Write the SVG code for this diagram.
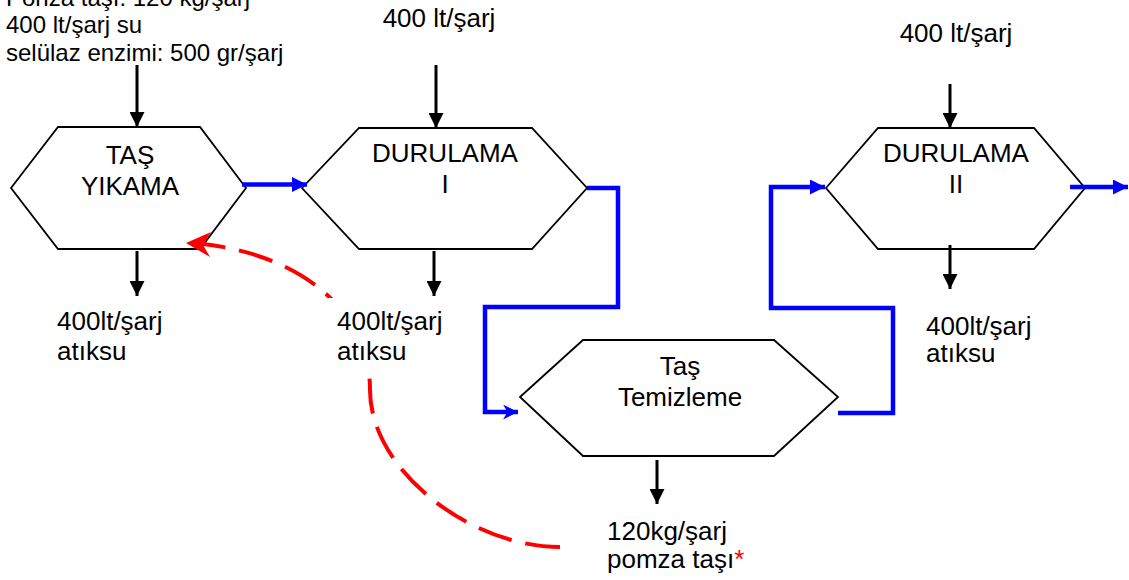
<svg xmlns="http://www.w3.org/2000/svg" width="1129" height="580" viewBox="0 0 1129 580">
<style>
text{font-family:"Liberation Sans",Arial,sans-serif;font-size:26px;fill:#000}
.hex{fill:#fff;stroke:#000;stroke-width:1.8;stroke-linejoin:miter}
.blk{fill:none;stroke:#000;stroke-width:3}
.blu{fill:none;stroke:#0000ff;stroke-width:4.5;stroke-linejoin:miter}
.red{fill:none;stroke:#ff0000;stroke-width:4;stroke-dasharray:35 14}
.mid{text-anchor:middle}
.sm{font-size:24px}
</style>
<defs>
<marker id="ab" viewBox="0 0 10 10" refX="10" refY="5" markerWidth="15" markerHeight="15" markerUnits="userSpaceOnUse" orient="auto"><path d="M0,0 L10,5 L0,10 Z" fill="#000"/></marker>
<marker id="au" viewBox="0 0 10 10" refX="10" refY="5" markerWidth="15" markerHeight="15" markerUnits="userSpaceOnUse" orient="auto"><path d="M0,0 L10,5 L0,10 Z" fill="#0000ff"/></marker>
<marker id="as" viewBox="0 0 10 10" refX="10" refY="5" markerWidth="15" markerHeight="15" markerUnits="userSpaceOnUse" orient="auto"><path d="M0,0 L10,5 L0,10 L3,5 Z" fill="#0000ff"/></marker>
</defs>

<g id="node-tas-yikama">
<polygon class="hex" points="11,188 58,127 200,127 246,188 200,249 58,249"/>
<text class="mid" x="130" y="164">TAŞ</text>
<text class="mid" x="130" y="195">YIKAMA</text>
</g>
<g id="node-durulama-1">
<polygon class="hex" points="302,188 359,128 532,128 587,188 532,249 359,249"/>
<text class="mid" x="445" y="162">DURULAMA</text>
<text class="mid" x="445" y="193">I</text>
</g>
<g id="node-tas-temizleme">
<polygon class="hex" points="520,397 583,340 774,340 838,397 774,456 583,456"/>
<text class="mid" x="680" y="375">Taş</text>
<text class="mid" x="680" y="406">Temizleme</text>
</g>
<g id="node-durulama-2">
<polygon class="hex" points="826,188 878,128 1034,128 1085,188 1034,249 878,249"/>
<text class="mid" x="956" y="162">DURULAMA</text>
<text class="mid" x="956" y="193">II</text>
</g>

<g id="connectors">
<line class="blk" x1="137" y1="65" x2="137" y2="127" marker-end="url(#ab)"/>
<line class="blk" x1="436" y1="65" x2="436" y2="128" marker-end="url(#ab)"/>
<line class="blk" x1="950" y1="84" x2="950" y2="128" marker-end="url(#ab)"/>
<line class="blk" x1="137" y1="251" x2="137" y2="296" marker-end="url(#ab)"/>
<line class="blk" x1="434" y1="251" x2="434" y2="296" marker-end="url(#ab)"/>
<line class="blk" x1="950" y1="245" x2="950" y2="289" marker-end="url(#ab)"/>
<line class="blk" x1="657" y1="460" x2="657" y2="504" marker-end="url(#ab)"/>
<line class="blu" x1="242" y1="184.5" x2="307" y2="184.5" marker-end="url(#au)"/>
<polyline class="blu" points="587,188 618,188 618,307 485,307 485,412 518,412" marker-end="url(#as)"/>
<polyline class="blu" points="838,413 893,413 893,308 771,308 771,187 825,187" marker-end="url(#au)"/>
<line class="blu" x1="1070" y1="187" x2="1128" y2="187" marker-end="url(#au)"/>
<path class="red" d="M560,547 C470,547 370,470 370,390 C370,310 300,255 203,244"/>
<polygon points="186,243 211,232 203,245 210,257" fill="#ff0000"/>
</g>

<g id="label-inputs-1">
<text class="sm" x="6" y="6">Ponza taşı: 120 kg/şarj</text>
<text class="sm" x="6" y="33">400 lt/şarj su</text>
<text class="sm" x="6" y="61">selülaz enzimi: 500 gr/şarj</text>
</g>
<g id="label-inputs-2"><text class="mid" x="439" y="27">400 lt/şarj</text></g>
<g id="label-inputs-3"><text class="mid" x="956" y="42">400 lt/şarj</text></g>
<g id="label-waste-1">
<text x="57" y="330">400lt/şarj</text>
<text x="57" y="360">atıksu</text>
</g>
<g id="label-waste-2">
<rect x="322" y="298" width="128" height="80" fill="#fff"/>
<text x="337" y="330">400lt/şarj</text>
<text x="337" y="360">atıksu</text>
</g>
<g id="label-waste-3">
<text x="926" y="335">400lt/şarj</text>
<text x="926" y="362">atıksu</text>
</g>
<g id="label-pumice">
<text x="607" y="540">120kg/şarj</text>
<text x="607" y="568">pomza taşı<tspan fill="#ff0000">*</tspan></text>
</g>
</svg>
